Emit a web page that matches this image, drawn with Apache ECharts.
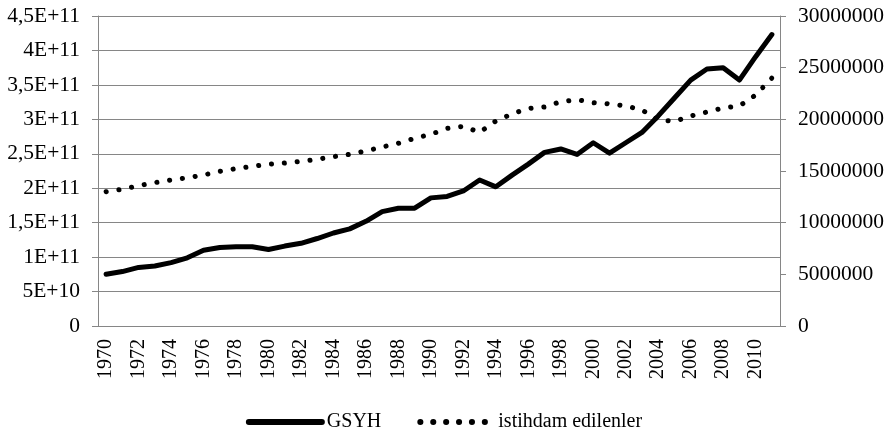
<!DOCTYPE html>
<html>
<head>
<meta charset="utf-8">
<script src="https://cdn.jsdelivr.net/npm/echarts@6/dist/echarts.min.js"></script>
<style>
  html, body { margin: 0; padding: 0; background: #fff; }
  #main { width: 888px; height: 432px; }
</style>
</head>
<body>
<div id="main"></div>
<script>
// yillar
var years = [];
for (var y = 1970; y <= 2011; y++) { years.push(String(y)); }

// GSYH (sol eksen)
var gsyh = [
  7.5e10, 7.9e10, 8.5e10, 8.7e10, 9.2e10, 9.9e10, 1.10e11, 1.14e11, 1.15e11, 1.15e11,
  1.11e11, 1.16e11, 1.20e11, 1.27e11, 1.35e11, 1.41e11, 1.52e11, 1.66e11, 1.71e11, 1.71e11,
  1.86e11, 1.88e11, 1.96e11, 2.12e11, 2.02e11, 2.19e11, 2.35e11, 2.52e11, 2.57e11, 2.49e11,
  2.66e11, 2.51e11, 2.66e11, 2.81e11, 3.05e11, 3.31e11, 3.57e11, 3.73e11, 3.75e11, 3.57e11,
  3.91e11, 4.23e11
];

// istihdam edilenler (sag eksen)
var istihdam = [
  13000000, 13230000, 13580000, 13870000, 14130000, 14350000, 14610000, 14970000, 15230000, 15450000,
  15650000, 15770000, 15940000, 16130000, 16390000, 16610000, 16940000, 17320000, 17680000, 18160000,
  18550000, 19130000, 19320000, 18740000, 19840000, 20520000, 21060000, 21190000, 21710000, 21900000,
  21600000, 21500000, 21300000, 20900000, 19940000, 19800000, 20320000, 20710000, 21100000, 21300000,
  22350000, 24000000
];

// eksen etiketleri
var leftLabels = ['0', '5E+10', '1E+11', '1,5E+11', '2E+11', '2,5E+11', '3E+11', '3,5E+11', '4E+11', '4,5E+11'];

var gridColor = '#868686';
var font = 'Liberation Serif';

var myChart = echarts.init(document.getElementById('main'));

var option = {
  animation: false,
  textStyle: { fontFamily: font, color: '#000' },
  grid: {
    left: 98,
    right: 108,
    top: 16,
    bottom: 106,
    containLabel: false,
    outerBoundsMode: 'none'
  },
  legend: {
    top: 407,
    left: 'center',
    itemWidth: 73,
    itemHeight: 22,
    itemGap: 36,
    itemStyle: { opacity: 0 },
    lineStyle: { width: 6 },
    textStyle: { fontFamily: font, fontSize: 20, color: '#000' },
    data: ['GSYH', 'istihdam edilenler']
  },
  xAxis: {
    type: 'category',
    data: years,
    boundaryGap: true,
    axisLine: { lineStyle: { color: gridColor, width: 1 } },
    axisTick: { interval: 0, length: 6, lineStyle: { color: gridColor } },
    axisLabel: {
      interval: 1,
      rotate: 90,
      margin: 13,
      fontFamily: font,
      fontSize: 20,
      color: '#000'
    },
    splitLine: { show: false }
  },
  yAxis: [
    {
      type: 'value',
      min: 0,
      max: 4.5e11,
      interval: 5e10,
      position: 'left',
      axisLine: { show: true, lineStyle: { color: gridColor, width: 1 } },
      axisTick: { show: true, length: 6, lineStyle: { color: gridColor } },
      axisLabel: {
        margin: 18,
        fontFamily: font,
        fontSize: 21.5,
        color: '#000',
        formatter: function (v) { return leftLabels[Math.round(v / 5e10)]; }
      },
      splitLine: { show: true, lineStyle: { color: gridColor, width: 1 } }
    },
    {
      type: 'value',
      min: 0,
      max: 30000000,
      interval: 5000000,
      position: 'right',
      axisLine: { show: true, lineStyle: { color: gridColor, width: 1 } },
      axisTick: { show: true, length: 6, lineStyle: { color: gridColor } },
      axisLabel: {
        margin: 18,
        fontFamily: font,
        fontSize: 21.5,
        color: '#000',
        formatter: function (v) { return String(v); }
      },
      splitLine: { show: false }
    }
  ],
  series: [
    {
      name: 'GSYH',
      type: 'line',
      yAxisIndex: 0,
      data: gsyh,
      showSymbol: false,
      symbol: 'none',
      lineStyle: { color: '#000', width: 5, cap: 'round', join: 'round' },
      itemStyle: { color: '#000' }
    },
    {
      name: 'istihdam edilenler',
      type: 'line',
      yAxisIndex: 1,
      data: istihdam,
      showSymbol: false,
      symbol: 'none',
      lineStyle: { color: '#000', width: 5, type: [0.1, 12.8], cap: 'round' },
      itemStyle: { color: '#000' }
    }
  ]
};

myChart.setOption(option);
</script>
</body>
</html>
